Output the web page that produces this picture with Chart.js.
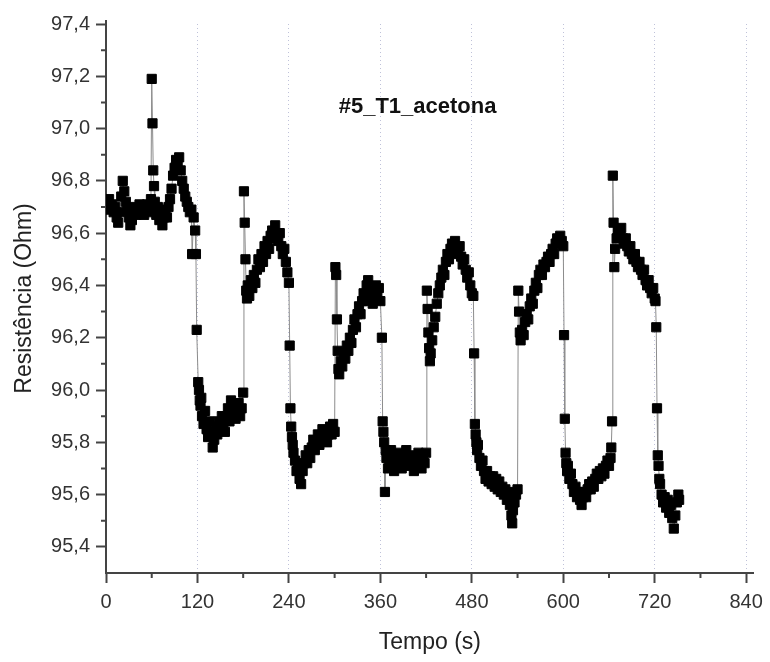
<!DOCTYPE html>
<html>
<head>
<meta charset="utf-8">
<script src="https://cdn.jsdelivr.net/npm/chart.js@4/dist/chart.umd.min.js"></script>
<style>
html,body{margin:0;padding:0;background:#fff;}
#wrap{width:770px;height:662px;}
</style>
</head>
<body>
<div id="wrap"><canvas id="c" width="770" height="662"></canvas></div>
<script>
// ---- data: [time (s), resistance (Ohm)] ----
const baseline0 = [[0,96.72],[2,96.70],[4,96.73],[6,96.69],[8,96.71],[10,96.68],[12,96.70],[14,96.66],[16,96.64],[18,96.68],[20,96.74],[22,96.80],[24,96.76],[26,96.72],[28,96.69],[30,96.66],[32,96.63],[34,96.65],[36,96.68],[38,96.70],[40,96.67],[42,96.69],[44,96.71],[46,96.68],[48,96.70],[50,96.67],[52,96.69],[54,96.71],[56,96.68],[58,96.70]];
const spike60 = [[59,96.73],[60,97.19],[61,97.02],[62,96.84],[63,96.78],[64,96.72],[66,96.67],[68,96.70],[70,96.65],[72,96.68],[74,96.63],[76,96.66],[78,96.69],[80,96.66],[82,96.70],[84,96.73],[86,96.77],[88,96.82],[90,96.85],[92,96.88],[94,96.86],[96,96.89],[98,96.84],[100,96.80],[102,96.77],[104,96.74],[106,96.72],[108,96.70],[110,96.68],[112,96.69],[113,96.52],[115,96.66],[117,96.61],[118,96.52],[119,96.23],[121,96.03]];
const low120 = [[122,96.00],[123,95.96],[124,95.94],[125,95.97],[126,95.90],[128,95.87],[130,95.92],[132,95.85],[134,95.82],[136,95.88],[138,95.84],[140,95.78],[142,95.81],[144,95.86],[146,95.83],[148,95.88],[150,95.85],[152,95.90],[154,95.87],[156,95.84],[158,95.90],[160,95.93],[162,95.88],[164,95.96],[166,95.91],[168,95.94],[170,95.89],[172,95.92],[174,95.95],[176,95.90],[178,95.93],[180,95.99]];
const high180 = [[181,96.76],[182,96.64],[183,96.50],[184,96.38],[185,96.35],[186,96.40],[188,96.36],[190,96.42],[192,96.39],[194,96.44],[196,96.41],[198,96.46],[200,96.50],[202,96.47],[204,96.52],[206,96.49],[208,96.55],[210,96.52],[212,96.57],[214,96.54],[216,96.59],[218,96.61],[220,96.58],[222,96.63],[224,96.60],[226,96.57],[228,96.60],[230,96.55],[232,96.52],[234,96.54],[236,96.49],[238,96.45],[240,96.41]];
const low240 = [[241,96.17],[242,95.93],[243,95.86],[244,95.82],[245,95.79],[246,95.76],[248,95.73],[250,95.69],[252,95.71],[254,95.66],[256,95.64],[258,95.69],[260,95.72],[262,95.75],[264,95.72],[266,95.77],[268,95.74],[270,95.78],[272,95.81],[274,95.77],[276,95.80],[278,95.83],[280,95.79],[282,95.82],[284,95.85],[286,95.81],[288,95.84],[290,95.80],[292,95.83],[294,95.86],[296,95.83],[298,95.87],[300,95.84]];
const high300 = [[301,96.47],[302,96.44],[303,96.27],[304,96.15],[305,96.08],[306,96.06],[308,96.11],[310,96.09],[312,96.14],[314,96.12],[316,96.17],[318,96.15],[320,96.20],[322,96.18],[324,96.23],[326,96.27],[328,96.24],[330,96.29],[332,96.32],[334,96.29],[336,96.34],[338,96.37],[340,96.34],[342,96.40],[344,96.42],[346,96.38],[348,96.35],[350,96.33],[352,96.37],[354,96.40],[356,96.36],[358,96.39],[360,96.34]];
const low360 = [[362,96.20],[363,95.88],[364,95.84],[365,95.80],[366,95.61],[367,95.77],[368,95.74],[370,95.70],[372,95.73],[374,95.77],[376,95.72],[378,95.69],[380,95.74],[382,95.71],[384,95.76],[386,95.73],[388,95.70],[390,95.75],[392,95.72],[394,95.77],[396,95.74],[398,95.71],[400,95.75],[402,95.72],[404,95.69],[406,95.74],[408,95.71],[410,95.76],[412,95.73],[414,95.70],[416,95.75],[418,95.72],[420,95.76]];
const high420 = [[421,96.38],[422,96.31],[423,96.22],[424,96.16],[425,96.11],[426,96.14],[428,96.19],[430,96.24],[432,96.28],[434,96.33],[436,96.37],[438,96.40],[440,96.43],[442,96.46],[444,96.44],[446,96.49],[448,96.52],[450,96.50],[452,96.54],[454,96.56],[456,96.53],[458,96.57],[460,96.54],[462,96.52],[464,96.55],[466,96.51],[468,96.48],[470,96.50],[472,96.46],[474,96.43],[476,96.45],[478,96.40],[480,96.37],[482,96.36]];
const low480 = [[483,96.14],[484,95.87],[485,95.83],[486,95.80],[487,95.77],[488,95.79],[490,95.74],[492,95.71],[494,95.73],[496,95.69],[498,95.66],[500,95.69],[502,95.65],[504,95.67],[506,95.64],[508,95.67],[510,95.63],[512,95.66],[514,95.62],[516,95.65],[518,95.61],[520,95.63],[522,95.60],[524,95.62],[526,95.58],[528,95.61],[530,95.56],[532,95.52],[533,95.49],[534,95.54],[536,95.57],[538,95.60],[540,95.62]];
const high540 = [[541,96.38],[542,96.30],[543,96.22],[544,96.19],[546,96.23],[548,96.21],[550,96.26],[552,96.29],[554,96.27],[556,96.32],[558,96.35],[560,96.33],[562,96.38],[564,96.41],[566,96.39],[568,96.44],[570,96.46],[572,96.44],[574,96.48],[576,96.47],[578,96.49],[580,96.51],[582,96.49],[584,96.52],[586,96.54],[588,96.52],[590,96.56],[592,96.58],[594,96.56],[596,96.59],[598,96.57],[600,96.55]];
const low600 = [[601,96.21],[602,95.89],[603,95.76],[604,95.72],[605,95.69],[606,95.71],[608,95.66],[610,95.68],[612,95.64],[614,95.61],[616,95.63],[618,95.59],[620,95.61],[622,95.58],[624,95.56],[626,95.59],[628,95.61],[630,95.59],[632,95.62],[634,95.64],[636,95.62],[638,95.65],[640,95.63],[642,95.66],[644,95.68],[646,95.66],[648,95.69],[650,95.67],[652,95.70],[654,95.68],[656,95.71],[658,95.73],[660,95.71],[662,95.74],[663,95.78],[664,95.88]];
const high660 = [[665,96.82],[666,96.64],[667,96.47],[668,96.54],[670,96.58],[672,96.61],[674,96.59],[676,96.62],[678,96.58],[680,96.56],[682,96.58],[684,96.55],[686,96.53],[688,96.55],[690,96.52],[692,96.50],[694,96.52],[696,96.49],[698,96.47],[700,96.49],[702,96.46],[704,96.44],[706,96.46],[708,96.42],[710,96.40],[712,96.42],[714,96.39],[716,96.37],[718,96.39],[720,96.35],[721,96.34]];
const low720 = [[722,96.24],[723,95.93],[724,95.75],[725,95.71],[726,95.66],[727,95.64],[729,95.60],[731,95.57],[733,95.59],[735,95.55],[737,95.58],[739,95.53],[741,95.56],[743,95.51],[745,95.47],[747,95.52],[749,95.57],[751,95.60],[752,95.58]];

const xTickValues = [0,120,240,360,480,600,720,840];
const yTickValues = [95.4,95.6,95.8,96.0,96.2,96.4,96.6,96.8,97.0,97.2,97.4];
const chartTitle = '#5_T1_acetona';
const xTitle = 'Tempo (s)';
const yTitle = 'Resistência (Ohm)';

const allPoints = [].concat(baseline0, spike60, low120, high180, low240, high300, low360,
  high420, low480, high540, low600, high660, low720).map(p => ({x: p[0], y: p[1]}));

const AXIS = '#444';

const minorTicks = {
  id: 'minorTicks',
  afterDraw(chart) {
    const ctx = chart.ctx;
    const xs = chart.scales.x, ys = chart.scales.y;
    const a = chart.chartArea;
    ctx.save();
    ctx.strokeStyle = AXIS;
    ctx.lineWidth = 2;
    ctx.beginPath();
    for (let i = 0; i < xTickValues.length - 1; i++) {
      const px = xs.getPixelForValue((xTickValues[i] + xTickValues[i+1]) / 2);
      ctx.moveTo(px, a.bottom); ctx.lineTo(px, a.bottom + 5);
    }
    for (let i = 0; i < yTickValues.length - 1; i++) {
      const py = ys.getPixelForValue((yTickValues[i] + yTickValues[i+1]) / 2);
      ctx.moveTo(a.left, py); ctx.lineTo(a.left - 5, py);
    }
    ctx.moveTo(a.left, a.top); ctx.lineTo(a.left, a.top - 4);
    ctx.stroke();
    ctx.fillStyle = '#111';
    ctx.font = 'bold 22px "Liberation Sans", Arial, sans-serif';
    ctx.textAlign = 'center';
    ctx.textBaseline = 'middle';
    ctx.fillText(chartTitle, a.left + (a.right - a.left) * 0.481, a.top + (a.bottom - a.top) * 0.1512);
    ctx.restore();
  }
};

new Chart(document.getElementById('c'), {
  type: 'scatter',
  data: {
    datasets: [{
      data: allPoints,
      showLine: true,
      borderColor: '#8c8c8c',
      borderWidth: 1,
      pointStyle: 'rect',
      pointRadius: 6.5,
      pointBorderWidth: 1,
      pointBackgroundColor: '#000',
      pointBorderColor: '#000',
      tension: 0
    }]
  },
  options: {
    responsive: false,
    animation: false,
    devicePixelRatio: 1,
    layout: { padding: { top: 24, right: 11, left: 0, bottom: 0 } },
    plugins: { legend: { display: false }, tooltip: { enabled: false }, title: { display: false } },
    scales: {
      x: {
        type: 'linear', min: 0, max: 850,
        afterBuildTicks(s) { s.ticks = xTickValues.map(v => ({value: v})); },
        afterFit(s) { s.height = 89; },
        ticks: {
          color: '#333', padding: 7,
          font: { family: '"Liberation Sans", Arial, sans-serif', size: 20 },
          callback: v => String(v), maxRotation: 0, autoSkip: false
        },
        grid: {
          color: c => (c.tick && c.tick.value === 0) ? 'rgba(0,0,0,0)' : '#bfc2d9',
          lineWidth: 1, tickLength: 10, tickColor: AXIS, tickWidth: 2, drawOnChartArea: true
        },
        border: { color: AXIS, width: 2, dash: [1, 3] },
        title: {
          display: true, text: xTitle, color: '#222',
          font: { family: '"Liberation Sans", Arial, sans-serif', size: 23 },
          padding: { top: 0, bottom: 6 }
        }
      },
      y: {
        type: 'linear', min: 95.3, max: 97.4,
        afterBuildTicks(s) { s.ticks = yTickValues.map(v => ({value: v})); },
        afterFit(s) { s.width = 106; },
        ticks: {
          color: '#333', padding: 6,
          font: { family: '"Liberation Sans", Arial, sans-serif', size: 20 },
          callback: v => Number(v).toFixed(1).replace('.', ','), autoSkip: false
        },
        grid: { drawOnChartArea: false, tickLength: 10, tickColor: AXIS, tickWidth: 2 },
        border: { color: AXIS, width: 2 },
        title: {
          display: true, text: yTitle, color: '#222',
          font: { family: '"Liberation Sans", Arial, sans-serif', size: 23 },
          padding: { top: 11, bottom: 0 }
        }
      }
    }
  },
  plugins: [minorTicks]
});
</script>
</body>
</html>
